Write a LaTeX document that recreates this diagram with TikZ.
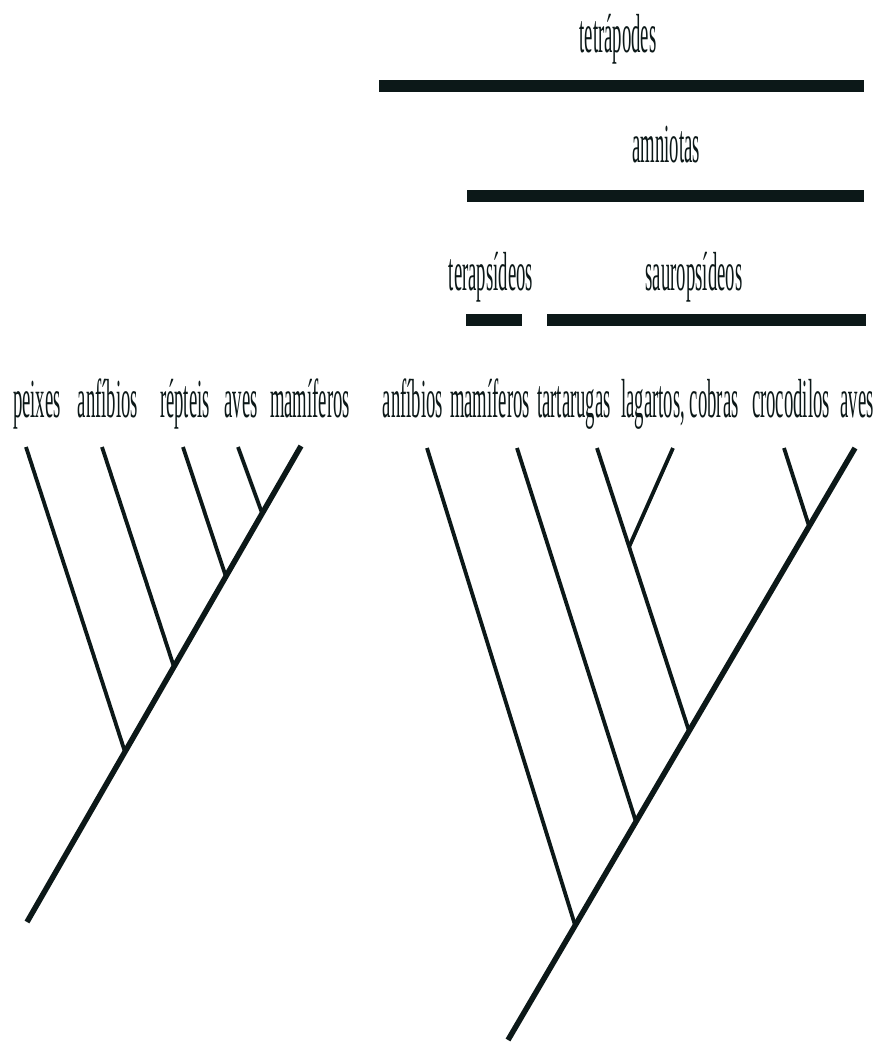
\documentclass[tikz,border=0pt]{standalone}
\usepackage{fontspec}
\setmainfont{Liberation Serif}[FakeStretch=0.34]
\definecolor{tinta}{RGB}{12,24,24}
\tikzset{
    rotulo/.style={anchor=base, inner sep=0pt, text=tinta,
        font=\fontsize{55}{60}\selectfont},
    ramo/.style={draw=tinta, line width=3.8pt},
    tronco/.style={draw=tinta, line width=5.5pt},
    barra/.style={draw=tinta, line width=11.5pt},
}
\begin{document}
\begin{tikzpicture}[x=1pt,y=-1pt]
    \useasboundingbox (0,0) rectangle (895,1044);

    % left tree
    \node[rotulo] (peixesE) at (37,417) {peixes};
    \node[rotulo] (anfibiosE) at (108,417) {anfíbios};
    \node[rotulo] (repteisE) at (185,417) {répteis};
    \node[rotulo] (avesE) at (241,417) {aves};
    \node[rotulo] (mamiferosE) at (310,417) {mamíferos};

    \coordinate (tPeixes) at (26,447);
    \coordinate (tAnfibiosE) at (102,447);
    \coordinate (tRepteis) at (183,447);
    \coordinate (tAvesE) at (238,447);
    \coordinate (tMamiferosE) at (301,446);
    \coordinate (raizE) at (27,922);
    \coordinate (n1) at (125,752);
    \coordinate (n2) at (174,667);
    \coordinate (n3) at (226,577);
    \coordinate (n4) at (262,513);

    \draw[ramo] (tPeixes) -- (n1);
    \draw[ramo] (tAnfibiosE) -- (n2);
    \draw[ramo] (tRepteis) -- (n3);
    \draw[ramo] (tAvesE) -- (n4);
    \draw[tronco] (raizE) -- (tMamiferosE);

    % right tree
    \node[rotulo] (anfibiosD) at (413,417) {anfíbios};
    \node[rotulo] (mamiferosD) at (490,417) {mamíferos};
    \node[rotulo] (tartarugas) at (574,417) {tartarugas};
    \node[rotulo] (lagartos) at (680,417) {lagartos, cobras};
    \node[rotulo] (crocodilos) at (791,417) {crocodilos};
    \node[rotulo] (avesD) at (857,417) {aves};

    \coordinate (tAnfibiosD) at (427,448);
    \coordinate (tMamiferosD) at (517,448);
    \coordinate (tTartarugas) at (597,448);
    \coordinate (tLagartos) at (673,448);
    \coordinate (tCrocodilos) at (784,448);
    \coordinate (tAvesD) at (855,448);
    \coordinate (raizD) at (508,1040);
    \coordinate (m1) at (575,925);
    \coordinate (m2) at (636,822);
    \coordinate (m3) at (689,731);
    \coordinate (m4) at (809,526);
    \coordinate (m5) at (629,547);

    \draw[ramo] (tAnfibiosD) -- (m1);
    \draw[ramo] (tMamiferosD) -- (m2);
    \draw[ramo] (tTartarugas) -- (m3);
    \draw[ramo] (tLagartos) -- (m5);
    \draw[ramo] (tCrocodilos) -- (m4);
    \draw[tronco] (raizD) -- (tAvesD);

    % groups
    \node[rotulo] (tetrapodes) at (618,52) {tetrápodes};
    \node[rotulo] (amniotas) at (666,162) {amniotas};
    \node[rotulo] (terapsideos) at (491,290) {terapsídeos};
    \node[rotulo] (sauropsideos) at (694,290) {sauropsídeos};

    \draw[barra] (379,86) -- (864,86);
    \draw[barra] (467,196) -- (864,196);
    \draw[barra] (466,320) -- (522,320);
    \draw[barra] (547,320) -- (866,320);
\end{tikzpicture}
\end{document}
